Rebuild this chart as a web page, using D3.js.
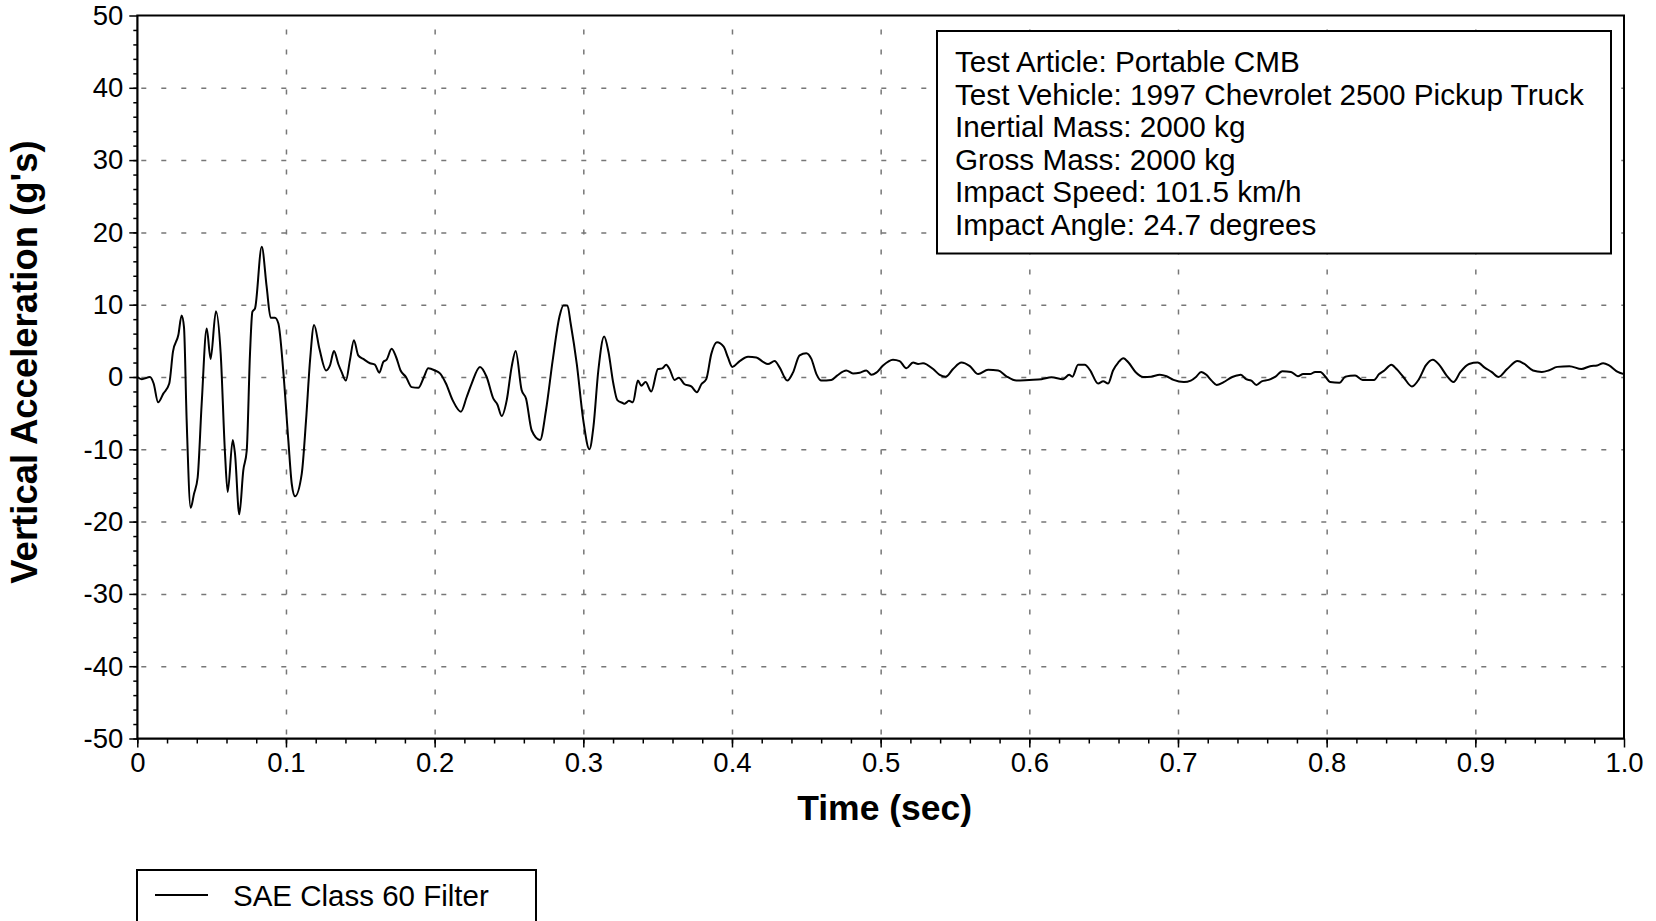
<!DOCTYPE html>
<html>
<head>
<meta charset="utf-8">
<script src="https://cdn.jsdelivr.net/npm/d3@7"></script>
<style>
  body { margin: 0; background: #fff; }
  svg { display: block; font-family: "Liberation Sans", Arial, Helvetica, sans-serif; }
  .gridline line { stroke: #777; stroke-width: 1.5; stroke-dasharray: 5,15; }
  .gridline path { display: none; }
  .axis path, .axis line { stroke: #000; }
</style>
</head>
<body>
<div id="chartContainer"></div>
<script>
// time (s) and vertical acceleration (g)
var timeSec = [0, 0.003, 0.0085, 0.011, 0.014, 0.0175, 0.0215, 0.024, 0.0276, 0.0298,
  0.0314, 0.0332, 0.0359, 0.0381, 0.0406, 0.0433, 0.0467, 0.0493, 0.0529, 0.0561,
  0.059, 0.0608, 0.0642, 0.0657, 0.0686, 0.0713, 0.0736, 0.0758, 0.0774, 0.0792,
  0.0837, 0.087, 0.0897, 0.0926, 0.0949, 0.0983, 0.1016, 0.1039, 0.1061, 0.1106,
  0.1135, 0.1162, 0.1189, 0.1225, 0.127, 0.1296, 0.1323, 0.1352, 0.1374, 0.1403,
  0.143, 0.1457, 0.1486, 0.152, 0.1565, 0.1598, 0.1628, 0.1655, 0.1677, 0.1711,
  0.174, 0.1771, 0.1807, 0.1845, 0.189, 0.1928, 0.1957, 0.2002, 0.2036, 0.2076,
  0.2121, 0.2177, 0.2215, 0.2249, 0.2305, 0.235, 0.2395, 0.2422, 0.2451, 0.2485,
  0.2518, 0.2545, 0.2585, 0.2615, 0.2653, 0.2709, 0.2749, 0.2794, 0.2839, 0.2866,
  0.2893, 0.2915, 0.2956, 0.3, 0.3041, 0.3068, 0.3101, 0.314, 0.3169, 0.3202,
  0.3229, 0.3265, 0.3278, 0.3307, 0.3334, 0.3367, 0.339, 0.3419, 0.3457, 0.3502,
  0.3531, 0.3558, 0.358, 0.3614, 0.3643, 0.3681, 0.3726, 0.3764, 0.3794, 0.3827,
  0.3861, 0.3899, 0.3944, 0.3973, 0.4002, 0.4052, 0.4108, 0.4164, 0.4209, 0.4242,
  0.4287, 0.4321, 0.4372, 0.441, 0.4455, 0.45, 0.4534, 0.4568, 0.4601, 0.4668,
  0.4707, 0.4769, 0.4814, 0.4859, 0.4904, 0.4938, 0.4971, 0.5016, 0.5083, 0.5128,
  0.5173, 0.5218, 0.5252, 0.5285, 0.5353, 0.5397, 0.5438, 0.5487, 0.5543, 0.56,
  0.5656, 0.5723, 0.5791, 0.5846, 0.5913, 0.5999, 0.6082, 0.6149, 0.6227, 0.6268,
  0.629, 0.6328, 0.6373, 0.6407, 0.6463, 0.6497, 0.653, 0.6563, 0.6598, 0.6633,
  0.6667, 0.6714, 0.6767, 0.6819, 0.6877, 0.6923, 0.697, 0.704, 0.7086, 0.7121,
  0.7156, 0.7191, 0.7226, 0.726, 0.7307, 0.7365, 0.7395, 0.7423, 0.7458, 0.7493,
  0.7528, 0.7563, 0.7609, 0.7656, 0.7702, 0.776, 0.7807, 0.7842, 0.7888, 0.7923,
  0.7958, 0.7993, 0.8023, 0.8086, 0.8126, 0.8191, 0.8242, 0.8288, 0.8319, 0.8353,
  0.8388, 0.8435, 0.847, 0.8516, 0.8574, 0.8621, 0.8667, 0.8714, 0.876, 0.8807,
  0.8853, 0.89, 0.8958, 0.9016, 0.9063, 0.9109, 0.9156, 0.9214, 0.9284, 0.933,
  0.9388, 0.9447, 0.9493, 0.9551, 0.9633, 0.9714, 0.9772, 0.9819, 0.986, 0.99,
  0.9958, 1.0];

var accelG = [0, -0.3, 0, -0.9, -3.5, -2.3, -0.9, 3.5, 5.8, 8.5,
  6.9, -6.0, -18.1, -16.2, -13.9, -3.7, 6.7, 2.5, 9.1, 3.2,
  -10.6, -15.9, -8.7, -10.6, -19.0, -12.9, -10.2, 3.2, 9.0, 9.5,
  18.0, 12.5, 8.2, 8.2, 7.4, 0.5, -8.8, -14.8, -16.5, -13.4,
  -6.0, 2.3, 7.2, 3.9, 0.9, 1.6, 3.6, 1.8, 0.7, -0.5,
  2.3, 5.1, 3.0, 2.5, 1.9, 1.7, 0.6, 2.1, 2.4, 3.9,
  2.8, 0.9, 0, -1.4, -1.5, 0, 1.2, 0.9, 0.5, -0.9,
  -3.2, -4.8, -2.8, -0.9, 1.4, 0, -3.0, -3.8, -5.4, -3.2,
  1.4, 3.6, -1.8, -3.0, -7.4, -8.7, -4.6, 2.3, 8.3, 9.9,
  9.9, 7.4, 1.8, -6.0, -10.0, -6.9, 0.9, 5.6, 3.5, -0.9,
  -3.2, -3.6, -3.7, -3.3, -3.5, -0.5, -1.2, -0.7, -2.0, 1.1,
  1.2, 1.7, 1.1, -0.4, -0.1, -1.0, -1.3, -2.1, -1.0, -0.3,
  3.2, 4.8, 4.2, 2.7, 1.4, 2.2, 2.8, 2.7, 2.1, 1.8,
  2.2, 1.3, -0.5, 0.6, 3.0, 3.3, 2.5, 0.4, -0.5, -0.4,
  0.2, 0.9, 0.5, 0.6, 0.9, 0.3, 0.6, 1.6, 2.4, 2.2,
  1.2, 2.0, 1.8, 1.9, 1.1, 0.3, 0.05, 1.1, 2.0, 1.5,
  0.4, 1.0, 0.9, 0.1, -0.5, -0.4, -0.3, -0.05, -0.3, 0.3,
  0.05, 1.7, 1.7, 1.0, -0.9, -0.6, -0.9, 0.9, 2.0, 2.6,
  2.0, 0.7, 0, 0.05, 0.3, 0.1, -0.4, -0.7, -0.5, 0,
  0.7, 0.3, -0.5, -1.1, -0.7, 0, 0.2, 0.3, -0.3, -0.5,
  -1.1, -0.6, -0.4, 0.05, 0.8, 0.7, 0.1, 0.4, 0.4, 0.7,
  0.7, 0, -0.7, -0.8, 0.05, 0.2, -0.4, -0.4, -0.4, 0.4,
  0.9, 1.7, 1.1, 0, -1.3, -0.3, 1.6, 2.4, 1.6, 0.2,
  -0.7, 0.7, 1.8, 2.0, 1.3, 0.7, 0, 1.1, 2.2, 1.8,
  0.9, 0.7, 0.9, 1.4, 1.5, 1.1, 1.5, 1.6, 1.9, 1.6,
  0.7, 0.4];

var xTickValues = [0, 0.1, 0.2, 0.3, 0.4, 0.5, 0.6, 0.7, 0.8, 0.9, 1.0];
var xTickLabels = ["0", "0.1", "0.2", "0.3", "0.4", "0.5", "0.6", "0.7", "0.8", "0.9", "1.0"];
var yTickValues = [-50, -40, -30, -20, -10, 0, 10, 20, 30, 40, 50];
var yTickLabels = ["-50", "-40", "-30", "-20", "-10", "0", "10", "20", "30", "40", "50"];

var infoLines = [
  "Test Article: Portable CMB",
  "Test Vehicle: 1997 Chevrolet 2500 Pickup Truck",
  "Inertial Mass: 2000 kg",
  "Gross Mass: 2000 kg",
  "Impact Speed: 101.5 km/h",
  "Impact Angle: 24.7 degrees"
];
var legendLabel = "SAE Class 60 Filter";
var xTitle = "Time (sec)";
var yTitle = "Vertical Acceleration (g's)";

var width = 1656;
var height = 921;
var marginLeft = 137.3;
var marginTop = 15.5;
var marginRight = 32;
var marginBottom = 182.5;

var svg = d3.select('#chartContainer')
    .append('svg')
    .attr("width", width)
    .attr("height", height);

var x = d3.scaleLinear().domain([0, 1]).range([marginLeft, width - marginRight]);
var y = d3.scaleLinear().domain([-50, 50]).range([height - marginBottom, marginTop]);

var plotW = width - marginLeft - marginRight;
var plotH = height - marginTop - marginBottom;

/***** Grid lines *****/
var xGrid = svg.append('g')
    .attr("class", "gridline")
    .attr("transform", "translate(0," + (height - marginBottom) + ")");
d3.axisBottom(x)
  .tickValues(xTickValues.slice(1, -1))
  .tickSize(-plotH)
  .tickFormat("")(xGrid);

var yGrid = svg.append('g')
    .attr("class", "gridline")
    .attr("transform", "translate(" + marginLeft + ",0)");
d3.axisLeft(y)
  .tickValues(yTickValues.slice(1, -1))
  .tickSize(-plotW)
  .tickFormat("")(yGrid);
yGrid.selectAll("line").style("stroke-dashoffset", -4);
xGrid.selectAll("line").style("stroke-dashoffset", -4);

/***** Minor ticks *****/
var xMinor = svg.append('g')
    .attr("class", "axis")
    .attr("transform", "translate(0," + (height - marginBottom) + ")");
d3.axisBottom(x).tickValues(d3.range(0, 50).map(i => i * 0.02)).tickSize(5).tickSizeOuter(0).tickFormat("")(xMinor);
xMinor.select(".domain").remove();
xMinor.selectAll("line").attr("stroke-width", 1.5);

var yMinor = svg.append('g')
    .attr("class", "axis")
    .attr("transform", "translate(" + marginLeft + ",0)");
d3.axisLeft(y).tickValues(d3.range(0, 50).map(i => -50 + i * 2)).tickSize(4).tickSizeOuter(0).tickFormat("")(yMinor);
yMinor.select(".domain").remove();
yMinor.selectAll("line").attr("stroke-width", 1.5);

/***** Major axes *****/
var xAxisGroup = svg.append('g')
    .attr("class", "axis")
    .attr("transform", "translate(0," + (height - marginBottom) + ")");
d3.axisBottom(x)
  .tickValues(xTickValues)
  .tickFormat((d, i) => xTickLabels[i])
  .tickSize(9)
  .tickPadding(5)
  .tickSizeOuter(0)(xAxisGroup);
xAxisGroup.attr("font-size", 27.5).attr("font-family", null);
xAxisGroup.selectAll("line").attr("stroke-width", 1.5);
xAxisGroup.selectAll("text").attr("fill", "#000");

var yAxisGroup = svg.append('g')
    .attr("class", "axis")
    .attr("transform", "translate(" + marginLeft + ",0)");
d3.axisLeft(y)
  .tickValues(yTickValues)
  .tickFormat((d, i) => yTickLabels[i])
  .tickSize(8)
  .tickPadding(6)
  .tickSizeOuter(0)(yAxisGroup);
yAxisGroup.attr("font-size", 27.5).attr("font-family", null);
yAxisGroup.selectAll("line").attr("stroke-width", 1.5);
yAxisGroup.selectAll("text").attr("fill", "#000");

// plot frame
svg.append("rect")
  .attr("x", marginLeft)
  .attr("y", marginTop)
  .attr("width", plotW)
  .attr("height", plotH)
  .attr("fill", "none")
  .attr("stroke", "#000")
  .attr("stroke-width", 2);

/***** Trace *****/
var data = timeSec.map((t, i) => [t, accelG[i]]);
var line = d3.line()
  .x(d => x(d[0]))
  .y(d => y(d[1]))
  .curve(d3.curveMonotoneX);

svg.append("path")
  .datum(data)
  .attr("d", line)
  .attr("fill", "none")
  .attr("stroke", "#000")
  .attr("stroke-width", 2)
  .attr("stroke-linejoin", "round");

/***** Axis titles *****/
svg.append("text")
  .attr("x", (marginLeft + width - marginRight) / 2 + 4)
  .attr("y", 820)
  .attr("text-anchor", "middle")
  .attr("font-size", 35.5)
  .attr("font-weight", "bold")
  .text(xTitle);

svg.append("text")
  .attr("transform", "translate(37,362) rotate(-90)")
  .attr("text-anchor", "middle")
  .attr("font-size", 36.5)
  .attr("font-weight", "bold")
  .text(yTitle);

/***** Info box *****/
var info = svg.append("g");
info.append("rect")
  .attr("x", 937)
  .attr("y", 31)
  .attr("width", 674)
  .attr("height", 222.5)
  .attr("fill", "#fff")
  .attr("stroke", "#000")
  .attr("stroke-width", 2);
info.selectAll("text")
  .data(infoLines)
  .enter()
  .append("text")
  .attr("x", 955)
  .attr("y", (d, i) => 72 + i * 32.6)
  .attr("font-size", 29.7)
  .text(d => d);

/***** Legend *****/
var legend = svg.append("g");
legend.append("rect")
  .attr("x", 137)
  .attr("y", 870)
  .attr("width", 399)
  .attr("height", 80)
  .attr("fill", "none")
  .attr("stroke", "#000")
  .attr("stroke-width", 2);
legend.append("line")
  .attr("x1", 155).attr("x2", 208)
  .attr("y1", 895).attr("y2", 895)
  .attr("stroke", "#000")
  .attr("stroke-width", 2);
legend.append("text")
  .attr("x", 233)
  .attr("y", 906)
  .attr("font-size", 29.5)
  .text(legendLabel);
</script>
</body>
</html>
